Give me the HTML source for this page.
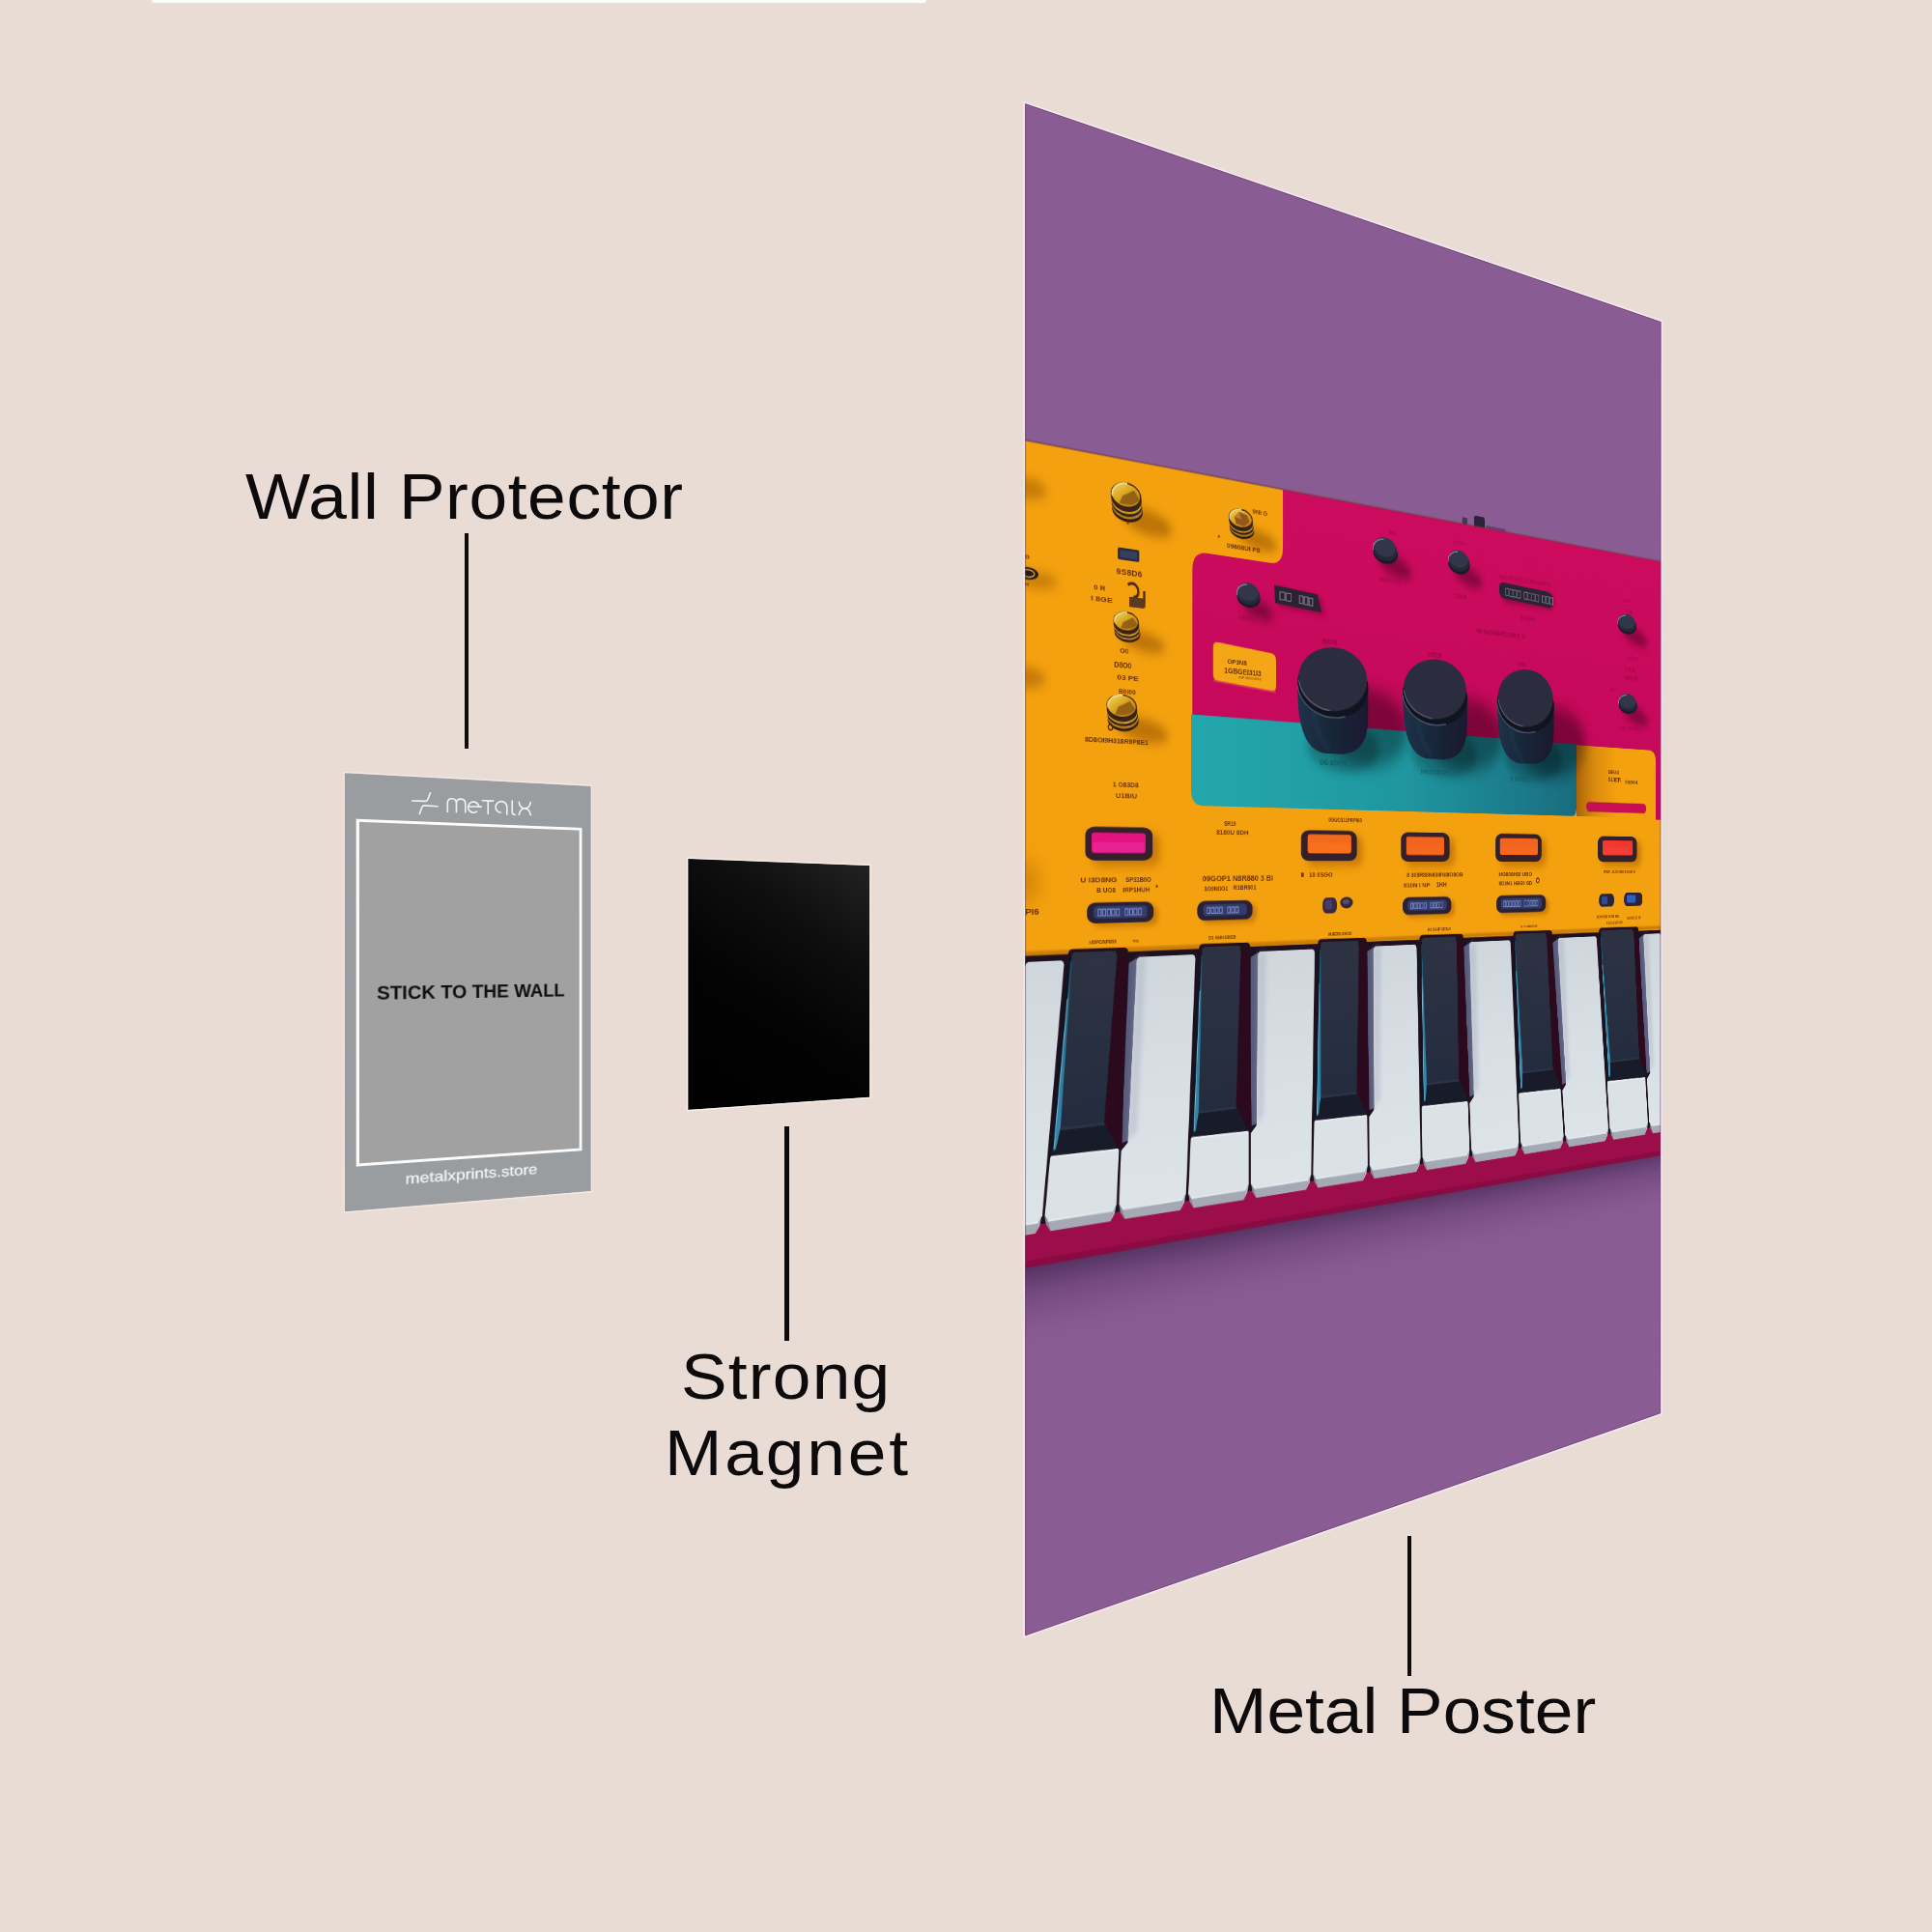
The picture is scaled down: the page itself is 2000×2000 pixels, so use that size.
<!DOCTYPE html><html><head><meta charset="utf-8"><title>Metal Poster</title><style>html,body{margin:0;padding:0}body{width:2000px;height:2000px;background:#e8dcd4;position:relative;overflow:hidden;font-family:"Liberation Sans",sans-serif}.lb{position:absolute;white-space:nowrap;color:#0c0a0a;transform-origin:0 0;font-family:"Liberation Sans",sans-serif}.ln{position:absolute;background:#0c0a0a}.flat{position:absolute;left:0;top:0;transform-origin:0 0}</style></head><body>
<div style="position:absolute;left:157px;top:0;width:802px;height:3px;background:#fdfdfc;border-radius:0 0 3px 3px"></div>
<div style="position:absolute;left:157px;top:3px;width:802px;height:2px;background:#e6dfd9;opacity:.6"></div>
<div class="lb" style="left:253.7px;top:480.5px;font-size:66px;line-height:66px;letter-spacing:0.58px;transform:scaleX(1.08)">Wall Protector</div>
<div class="lb" style="left:705.0px;top:1392.0px;font-size:66px;line-height:66px;letter-spacing:1.15px;transform:scaleX(1.08)">Strong</div>
<div class="lb" style="left:688.0px;top:1471.0px;font-size:66px;line-height:66px;letter-spacing:2.65px;transform:scaleX(1.08)">Magnet</div>
<div class="lb" style="left:1252.0px;top:1738.1px;font-size:66px;line-height:66px;letter-spacing:0.00px;transform:scaleX(1.08)">Metal Poster</div>
<div class="ln" style="left:480.6px;top:552px;width:4px;height:223px"></div>
<div class="ln" style="left:812.3px;top:1165.7px;width:4.4px;height:222px"></div>
<div class="ln" style="left:1456.8px;top:1589.8px;width:3.8px;height:145.5px"></div>
<div class="flat" style="width:255px;height:454px;padding:5px;transform:matrix3d(1.20055953,0.321102603,0,0.00032851347,0.000528789988,1.00152491,0,8.64459713e-07,0,0,1,0,356.8,800.2,0,1) translate(-5px,-5px)"><div style="position:relative;width:255px;height:454px;background:#9a9d9f"><div style="position:absolute;left:10.7px;top:47.2px;width:228.4px;height:354.9px;border:3px solid #fcfcfc;background:#a1a1a1"></div><div style="position:absolute;left:31.3px;top:216px;font:bold 21px/24px 'Liberation Sans',sans-serif;color:#0e0e0e;white-space:nowrap;transform-origin:0 0;transform:scaleX(.925)">STICK TO THE WALL</div><div style="position:absolute;left:58.6px;top:416px;font:15.5px/18px 'Liberation Sans',sans-serif;color:#f6f6f6;-webkit-text-stroke:0.3px #f6f6f6;white-space:nowrap;transform-origin:0 0;transform:scaleX(1.12)">metalxprints.store</div></div></div>
<svg style="position:absolute;left:0;top:0" width="2000" height="2000" viewBox="0 0 2000 2000" fill="none"><g transform="translate(415,810) scale(0.077640)" stroke="#f1f1f1" stroke-width="21" stroke-linecap="round" stroke-linejoin="round"><path d="M150,245 L322,250 Q350,251 360,225 L392,140"/><path d="M490,318 L318,308 Q290,306 280,332 L248,420"/><path d="M622,392 L622,275 Q622,215 681,216 Q740,217 740,277 L740,394 M740,277 Q740,219 800,220 Q860,221 860,281 L860,397"/><path d="M905,319 L1072,324 M1040,323 A72,72 0 1 0 1012,388"/><path d="M1087,242 L1232,246 M1162,244 L1162,418"/><path d="M1414,426 L1414,328 A75,75 0 1 0 1332,402"/><path d="M1484,246 L1484,394 Q1486,426 1521,431"/><path d="M1575,262 Q1590,345 1652,345 Q1714,345 1729,265 M1575,431 Q1590,347 1652,347 Q1714,347 1729,434"/></g></svg>
<div class="flat" style="width:188px;height:260px;padding:5px;transform:matrix3d(1.40515442,0.44160458,0,0.000450662451,-8.34644164e-11,0.999615385,0,-1.46592129e-13,0,0,1,0,712.3,889,0,1) translate(-5px,-5px)"><div style="width:188px;height:260px;background:linear-gradient(215deg,#222 0%,#0e0e0e 30%,#030303 60%,#000 100%)"></div></div>
<div class="flat" style="width:1134px;height:1587.2px;padding:6px;transform:matrix3d(1.1933087,0.31792837,0,0.00035625776,0.00057050397,1.0005325,0,5.3765337e-07,0,0,1,0,1061.1,107,0,1) translate(-6px,-6px)"><svg width="1134" height="1587.2" viewBox="0 0 1134 1587.2" font-family="Liberation Sans, sans-serif"><defs><filter id="b1" x="-50%" y="-50%" width="200%" height="200%"><feGaussianBlur stdDeviation="1"/></filter><filter id="b3" x="-50%" y="-50%" width="200%" height="200%"><feGaussianBlur stdDeviation="3"/></filter><filter id="b6" x="-50%" y="-50%" width="200%" height="200%"><feGaussianBlur stdDeviation="6"/></filter><filter id="b10" x="-50%" y="-50%" width="200%" height="200%"><feGaussianBlur stdDeviation="10"/></filter><linearGradient id="gshadow" x1="0" y1="0" x2="0" y2="1"><stop offset="0" stop-color="#3a1f48" stop-opacity=".7"/><stop offset=".35" stop-color="#5a3368" stop-opacity=".4"/><stop offset="1" stop-color="#8a5c94" stop-opacity="0"/></linearGradient><linearGradient id="gwhite" x1="0" y1="0" x2="0" y2="1"><stop offset="0" stop-color="#cfd7dc"/><stop offset=".5" stop-color="#d8dfe4"/><stop offset="1" stop-color="#dde4e8"/></linearGradient><linearGradient id="gblack" x1="0" y1="0" x2="0" y2="1"><stop offset="0" stop-color="#2e3343"/><stop offset="1" stop-color="#232c3e"/></linearGradient><linearGradient id="gobox" x1="0" y1="0" x2="1" y2="0"><stop offset="0" stop-color="#6a3008" stop-opacity=".55"/><stop offset=".45" stop-color="#8a4a08" stop-opacity=".25"/><stop offset="1" stop-color="#a05a08" stop-opacity="0"/></linearGradient><linearGradient id="ggold" x1="0" y1="0" x2="1" y2="1"><stop offset="0" stop-color="#f4dc62"/><stop offset=".45" stop-color="#d9a520"/><stop offset="1" stop-color="#a8720f"/></linearGradient><linearGradient id="gcyan" gradientUnits="userSpaceOnUse" x1="0" y1="885" x2="0" y2="1090"><stop offset="0" stop-color="#1c4f6a"/><stop offset=".35" stop-color="#27769a"/><stop offset="1" stop-color="#3588ac"/></linearGradient><linearGradient id="gbody" x1="0" y1="0" x2="1" y2="0"><stop offset="0" stop-color="#1e3349"/><stop offset=".45" stop-color="#172739"/><stop offset="1" stop-color="#1b1830"/></linearGradient><linearGradient id="gteal" x1="0" y1="0" x2="1" y2="0"><stop offset="0" stop-color="#23a7ac"/><stop offset=".5" stop-color="#1f96a0"/><stop offset=".85" stop-color="#1b7888"/><stop offset="1" stop-color="#196c7e"/></linearGradient><linearGradient id="gpink" x1="0" y1="0" x2="0" y2="1"><stop offset="0" stop-color="#cc0b5e"/><stop offset="1" stop-color="#c3085a"/></linearGradient><clipPath id="cteal"><path d="M228,620 L933,623 V712 Q933,722 923,722 H246 Q228,722 228,704 Z"/></clipPath></defs><rect x="0" y="0" width="1134" height="1587.2" fill="#8a5c94"/><polygon points="0,1204 1134,1210 1134,1300 0,1294" fill="url(#gshadow)"/><rect x="716" y="335" width="21" height="15" rx="3" fill="#2a2236"/><rect x="692" y="340" width="10" height="9" rx="2" fill="#4a3556"/><rect x="740" y="345" width="40" height="4" fill="#5a2a5a" opacity=".6"/><rect x="0" y="349" width="1134" height="540" fill="#f4a10f"/><path d="M371,349 H1134 V724 H1121 V641 Q1121,624 1104,624 H933 V660 H230 V458 Q230,437 252,437 H350 Q371,437 371,416 Z" fill="url(#gpink)"/><rect x="0" y="347.6" width="1134" height="2" fill="#6e3a35" opacity=".55"/><ellipse cx="0" cy="398" rx="28" ry="11" fill="#9a5206" opacity=".5" filter="url(#b6)"/><ellipse cx="0" cy="594" rx="26" ry="11" fill="#9a5206" opacity=".5" filter="url(#b6)"/><ellipse cx="0" cy="806" rx="20" ry="24" fill="#9a5206" opacity=".3" filter="url(#b10)"/><path d="M228,620 L933,623 V712 Q933,722 923,722 H246 Q228,722 228,704 Z" fill="url(#gteal)"/><ellipse cx="167.2" cy="408.2" rx="36.5" ry="13.5" fill="#7a3e04" opacity=".45" filter="url(#b6)" transform="rotate(9 135.0 392.0)"/><ellipse cx="136.5" cy="403.2" rx="21.5" ry="13.0" fill="#2e1a16"/><ellipse cx="136.2" cy="400.3" rx="21.3" ry="12.6" fill="#b98418"/><ellipse cx="135.8" cy="397.4" rx="21.3" ry="13.0" fill="#33201a"/><ellipse cx="135.4" cy="394.5" rx="21.1" ry="13.0" fill="#d4a024"/><ellipse cx="135.0" cy="391.6" rx="21.3" ry="13.7" fill="#3a221a"/><ellipse cx="134.5" cy="387.3" rx="20.4" ry="13.0" fill="url(#ggold)" stroke="#3a1c10" stroke-width="1.4"/><path d="M129.6,388.4 L145.8,380.8 L153.5,390.2 Q143.6,399.6 125.3,397.0 Z" fill="#8e5c12" opacity=".9"/><path d="M115.7,390.2 A20.4,13.0 0 0 1 136.1,374.5" fill="none" stroke="#fbeaa0" stroke-width="1.8" opacity=".9"/><ellipse cx="332.5" cy="408.1" rx="32.3" ry="10.9" fill="#7a3e04" opacity=".45" filter="url(#b6)" transform="rotate(9 304.0 395.0)"/><ellipse cx="305.5" cy="404.0" rx="19.0" ry="10.4" fill="#2e1a16"/><ellipse cx="305.2" cy="401.7" rx="18.8" ry="10.1" fill="#b98418"/><ellipse cx="304.8" cy="399.4" rx="18.8" ry="10.4" fill="#33201a"/><ellipse cx="304.4" cy="397.0" rx="18.6" ry="10.4" fill="#d4a024"/><ellipse cx="304.0" cy="394.7" rx="18.8" ry="11.0" fill="#3a221a"/><ellipse cx="303.5" cy="391.2" rx="18.1" ry="10.4" fill="url(#ggold)" stroke="#3a1c10" stroke-width="1.4"/><path d="M293.6,390.6 L301.1,384.1 L313.5,386.3 L317.3,393.6 L308.8,399.6 L296.4,397.9 Z" fill="#93561c"/><path d="M293.6,390.6 L301.1,384.1 L304.9,392.1 Z" fill="#c98a2a" opacity=".8"/><path d="M286.9,393.6 A18.1,10.4 0 0 1 304.9,380.9" fill="none" stroke="#fbeaa0" stroke-width="1.8" opacity=".9"/><ellipse cx="162.0" cy="540.6" rx="30.6" ry="10.5" fill="#7a3e04" opacity=".45" filter="url(#b6)" transform="rotate(9 135.0 528.0)"/><ellipse cx="136.5" cy="536.7" rx="18.0" ry="10.1" fill="#2e1a16"/><ellipse cx="136.2" cy="534.4" rx="17.8" ry="9.8" fill="#b98418"/><ellipse cx="135.8" cy="532.2" rx="17.8" ry="10.1" fill="#33201a"/><ellipse cx="135.4" cy="530.0" rx="17.6" ry="10.1" fill="#d4a024"/><ellipse cx="135.0" cy="527.7" rx="17.8" ry="10.6" fill="#3a221a"/><ellipse cx="134.5" cy="524.4" rx="17.1" ry="10.1" fill="url(#ggold)" stroke="#3a1c10" stroke-width="1.4"/><path d="M130.5,525.2 L144.0,519.3 L150.5,526.6 Q142.2,533.9 126.9,531.9 Z" fill="#8e5c12" opacity=".9"/><path d="M118.8,526.6 A17.1,10.1 0 0 1 135.9,514.4" fill="none" stroke="#fbeaa0" stroke-width="1.8" opacity=".9"/><ellipse cx="161.2" cy="636.3" rx="36.5" ry="12.8" fill="#7a3e04" opacity=".45" filter="url(#b6)" transform="rotate(9 129.0 621.0)"/><ellipse cx="130.5" cy="631.5" rx="21.5" ry="12.2" fill="#2e1a16"/><ellipse cx="130.2" cy="628.8" rx="21.3" ry="11.9" fill="#b98418"/><ellipse cx="129.8" cy="626.1" rx="21.3" ry="12.2" fill="#33201a"/><ellipse cx="129.4" cy="623.4" rx="21.1" ry="12.2" fill="#d4a024"/><ellipse cx="129.0" cy="620.7" rx="21.3" ry="12.9" fill="#3a221a"/><ellipse cx="128.5" cy="616.6" rx="20.4" ry="12.2" fill="url(#ggold)" stroke="#3a1c10" stroke-width="1.4"/><path d="M123.6,617.6 L139.8,610.5 L147.5,619.3 Q137.6,628.1 119.3,625.8 Z" fill="#8e5c12" opacity=".9"/><path d="M109.7,619.3 A20.4,12.2 0 0 1 130.1,604.5" fill="none" stroke="#fbeaa0" stroke-width="1.8" opacity=".9"/><rect x="123" y="445" width="30" height="13" rx="2" fill="#2b2a3a"/><rect x="126" y="447.5" width="24" height="8" fill="#34405c"/><text x="121.0" y="474.0" font-size="9.6" textLength="36.0" lengthAdjust="spacingAndGlyphs" fill="#5b2606" opacity="0.95" font-weight="bold">9S8D6</text><path d="M137,484 q9,-5 14,3 q3,8 -5,10 l0,8 l14,0 l0,-16" fill="none" stroke="#4a2a1a" stroke-width="3.2"/><rect x="139" y="497" width="21" height="11" fill="#5b3a22"/><text x="90.0" y="494.0" font-size="7.2" textLength="16.0" lengthAdjust="spacingAndGlyphs" fill="#5b2606" opacity="0.90" font-weight="bold">0 R</text><text x="86.0" y="506.5" font-size="7.8" textLength="30.0" lengthAdjust="spacingAndGlyphs" fill="#5b2606" opacity="0.90" font-weight="bold">I 8GE</text><text x="126.0" y="559.0" font-size="7.2" textLength="12.0" lengthAdjust="spacingAndGlyphs" fill="#5b2606" opacity="0.90" font-weight="bold">O0</text><text x="118.0" y="575.0" font-size="8.4" textLength="24.0" lengthAdjust="spacingAndGlyphs" fill="#5b2606" opacity="0.90" font-weight="bold">D8O0</text><text x="122.0" y="588.5" font-size="7.8" textLength="30.0" lengthAdjust="spacingAndGlyphs" fill="#5b2606" opacity="0.90" font-weight="bold">03 PE</text><text x="124.0" y="603.0" font-size="7.2" textLength="24.0" lengthAdjust="spacingAndGlyphs" fill="#5b2606" opacity="0.90" font-weight="bold">B0I00</text><text x="78.0" y="657.5" font-size="7.8" textLength="88.0" lengthAdjust="spacingAndGlyphs" fill="#5b2606" opacity="0.95" font-weight="bold">8D8OI9H318R9P8E1</text><circle cx="113" cy="640" r="3" fill="none" stroke="#4a2206" stroke-width="1.6"/><circle cx="137" cy="417" r="1.6" fill="#7a3a06"/><circle cx="160" cy="505" r="1.5" fill="#7a3a06"/><text x="322.0" y="383.5" font-size="6.6" textLength="24.0" lengthAdjust="spacingAndGlyphs" fill="#5b2606" opacity="0.80" font-weight="bold">9NI G</text><text x="282.0" y="427.5" font-size="7.8" textLength="52.0" lengthAdjust="spacingAndGlyphs" fill="#5b2606" opacity="0.90" font-weight="bold">09608UI P8</text><circle cx="270" cy="416" r="1.4" fill="#7a3a06"/><ellipse cx="16" cy="492" rx="26" ry="9" fill="#8a4a06" opacity=".4" filter="url(#b6)"/><ellipse cx="4" cy="486" rx="13" ry="6.5" fill="#2a1a12"/><ellipse cx="4" cy="486" rx="8" ry="3.8" fill="none" stroke="#e0b040" stroke-width="1.3"/><text x="0.0" y="471.0" font-size="6.0" textLength="6.0" lengthAdjust="spacingAndGlyphs" fill="#5b2606" opacity="0.90" font-weight="bold">0</text><text x="0.0" y="499.5" font-size="3.0" textLength="5.0" lengthAdjust="spacingAndGlyphs" fill="#5b2606" opacity="0.90" font-weight="bold">IH</text><text x="0.0" y="840.0" font-size="8.4" textLength="18.0" lengthAdjust="spacingAndGlyphs" fill="#5b2606" opacity="0.90" font-weight="bold">PI6</text><ellipse cx="334.8" cy="488.1" rx="25.2" ry="10.8" fill="#000" opacity=".33" filter="url(#b6)" transform="rotate(15 315.0 476.0)"/><ellipse cx="316.0" cy="480.3" rx="18.4" ry="11.9" fill="#1a1a28"/><ellipse cx="315.5" cy="477.4" rx="18.0" ry="11.6" fill="#262838"/><ellipse cx="315.0" cy="474.1" rx="16.2" ry="10.3" fill="#33364a"/><path d="M297.9,479.4 A18.0,11.6 0 0 1 313.2,465.7" fill="none" stroke="#a0a4b8" stroke-width="1.6" opacity=".75"/><polygon points="357,462 430,466 436,487 359,483" fill="#7a0638" opacity=".5" filter="url(#b3)" transform="translate(5 4)"/><polygon points="357,462 428,466 435,487 358,483" fill="#2c2331"/><g fill="none" stroke="#9a98b4" stroke-width="1.2" opacity=".85"><rect x="366" y="469" width="8" height="9"/><rect x="376" y="469.5" width="8" height="9"/><rect x="398" y="470.5" width="6" height="9"/><rect x="406" y="471" width="6" height="9"/><rect x="414" y="471.5" width="6" height="9"/></g><text x="300.0" y="508.0" font-size="8.4" textLength="26.0" lengthAdjust="spacingAndGlyphs" fill="#8a0640" opacity="0.55" font-weight="bold">06DN</text><polygon points="263,538 357,545 359,588 262,581" fill="#ee6a5a" opacity=".5"/><path d="M268,536 L352,542 Q360,543 360,551 L360,579 Q360,586 352,585.5 L268,579.5 Q261,579 261,572 L261,543 Q261,535.500 268,536 Z" fill="#f5a616"/><text x="283.0" y="559.5" font-size="7.8" textLength="30.0" lengthAdjust="spacingAndGlyphs" fill="#5b2606" opacity="0.90" font-weight="bold">OP3N8</text><text x="278.0" y="570.0" font-size="8.4" textLength="58.0" lengthAdjust="spacingAndGlyphs" fill="#5b2606" opacity="0.90" font-weight="bold">1GBGEI31I3</text><text x="300.0" y="575.5" font-size="4.2" textLength="36.0" lengthAdjust="spacingAndGlyphs" fill="#5b2606" opacity="0.60" font-weight="bold">00P 691OOISS</text><ellipse cx="570.2" cy="411.9" rx="30.8" ry="12.4" fill="#000" opacity=".33" filter="url(#b6)" transform="rotate(15 546.0 398.0)"/><ellipse cx="547.0" cy="403.0" rx="22.4" ry="13.6" fill="#1a1a28"/><ellipse cx="546.5" cy="399.6" rx="22.0" ry="13.3" fill="#262838"/><ellipse cx="546.0" cy="395.8" rx="19.8" ry="11.8" fill="#33364a"/><path d="M525.1,401.9 A22.0,13.3 0 0 1 543.8,386.2" fill="none" stroke="#a0a4b8" stroke-width="1.6" opacity=".75"/><ellipse cx="708.1" cy="410.1" rx="29.4" ry="11.6" fill="#000" opacity=".33" filter="url(#b6)" transform="rotate(15 685.0 397.0)"/><ellipse cx="686.0" cy="401.6" rx="21.4" ry="12.8" fill="#1a1a28"/><ellipse cx="685.5" cy="398.4" rx="21.0" ry="12.5" fill="#262838"/><ellipse cx="685.0" cy="395.0" rx="18.9" ry="11.0" fill="#33364a"/><path d="M665.0,400.6 A21.0,12.5 0 0 1 682.9,386.0" fill="none" stroke="#a0a4b8" stroke-width="1.6" opacity=".75"/><ellipse cx="1074.2" cy="457.1" rx="30.8" ry="10.8" fill="#000" opacity=".33" filter="url(#b6)" transform="rotate(15 1050.0 445.0)"/><ellipse cx="1051.0" cy="449.3" rx="22.4" ry="11.9" fill="#1a1a28"/><ellipse cx="1050.5" cy="446.4" rx="22.0" ry="11.6" fill="#262838"/><ellipse cx="1050.0" cy="443.1" rx="19.8" ry="10.3" fill="#33364a"/><path d="M1029.1,448.4 A22.0,11.6 0 0 1 1047.8,434.7" fill="none" stroke="#a0a4b8" stroke-width="1.6" opacity=".75"/><ellipse cx="1076.2" cy="570.1" rx="30.8" ry="10.8" fill="#000" opacity=".33" filter="url(#b6)" transform="rotate(15 1052.0 558.0)"/><ellipse cx="1053.0" cy="562.3" rx="22.4" ry="11.9" fill="#1a1a28"/><ellipse cx="1052.5" cy="559.4" rx="22.0" ry="11.6" fill="#262838"/><ellipse cx="1052.0" cy="556.1" rx="19.8" ry="10.3" fill="#33364a"/><path d="M1031.1,561.4 A22.0,11.6 0 0 1 1049.8,547.7" fill="none" stroke="#a0a4b8" stroke-width="1.6" opacity=".75"/><rect x="772" y="420" width="112" height="23" rx="9" fill="#7a0638" opacity=".5" filter="url(#b3)"/><path d="M775,416 L868,419 Q880,420 881,429 L881,434 Q880,441 870,440.500 L776,437 Q767,436 767,428 L767,423 Q767,416 775,416 Z" fill="#2b2433"/><g fill="none" stroke="#8f8da8" stroke-width="1.1" opacity=".8"><rect x="780.0" y="423.3" width="6.5" height="9"/><rect x="788.2" y="423.6" width="6.5" height="9"/><rect x="796.4" y="423.9" width="6.5" height="9"/><rect x="804.6" y="424.1" width="6.5" height="9"/><rect x="818.8" y="424.4" width="6.5" height="9"/><rect x="827.0" y="424.7" width="6.5" height="9"/><rect x="835.2" y="425.0" width="6.5" height="9"/><rect x="843.4" y="425.3" width="6.5" height="9"/><rect x="857.6" y="425.5" width="6.5" height="9"/><rect x="865.8" y="425.8" width="6.5" height="9"/><rect x="874.0" y="426.1" width="6.5" height="9"/></g><text x="766.0" y="412.0" font-size="8.4" textLength="110.0" lengthAdjust="spacingAndGlyphs" fill="#8a0640" opacity="0.50" font-weight="bold">SNOIDO0DO O86NNHP D</text><text x="553.0" y="379.0" font-size="7.0" textLength="12.0" lengthAdjust="spacingAndGlyphs" fill="#8a0640" opacity="0.50" font-weight="bold">9U</text><text x="560.0" y="424.0" font-size="8.4" textLength="24.0" lengthAdjust="spacingAndGlyphs" fill="#8a0640" opacity="0.50" font-weight="bold">N1IR</text><text x="536.0" y="439.0" font-size="8.4" textLength="38.0" lengthAdjust="spacingAndGlyphs" fill="#8a0640" opacity="0.45" font-weight="bold">6GR81U</text><text x="672.0" y="376.0" font-size="5.6" textLength="26.0" lengthAdjust="spacingAndGlyphs" fill="#8a0640" opacity="0.40" font-weight="bold">R13R3I3</text><text x="676.0" y="446.0" font-size="8.4" textLength="26.0" lengthAdjust="spacingAndGlyphs" fill="#8a0640" opacity="0.50" font-weight="bold">S3N6</text><text x="810.0" y="462.0" font-size="8.4" textLength="32.0" lengthAdjust="spacingAndGlyphs" fill="#8a0640" opacity="0.50" font-weight="bold">0UI6H</text><text x="720.0" y="487.5" font-size="9.1" textLength="100.0" lengthAdjust="spacingAndGlyphs" fill="#8a0640" opacity="0.70" font-weight="bold">66 NION68D1NE9 S</text><text x="626.0" y="525.0" font-size="8.4" textLength="26.0" lengthAdjust="spacingAndGlyphs" fill="#8a0640" opacity="0.70" font-weight="bold">H81B</text><text x="806.0" y="524.0" font-size="8.4" textLength="16.0" lengthAdjust="spacingAndGlyphs" fill="#8a0640" opacity="0.60" font-weight="bold">0H8</text><text x="436.0" y="524.0" font-size="8.4" textLength="26.0" lengthAdjust="spacingAndGlyphs" fill="#8a0640" opacity="0.85" font-weight="bold">BOI6</text><text x="1040.0" y="416.0" font-size="5.6" textLength="20.0" lengthAdjust="spacingAndGlyphs" fill="#8a0640" opacity="0.45" font-weight="bold">BB 8D</text><text x="1048.0" y="432.0" font-size="8.4" textLength="16.0" lengthAdjust="spacingAndGlyphs" fill="#8a0640" opacity="0.50" font-weight="bold">RBE</text><text x="1048.0" y="497.0" font-size="7.0" textLength="30.0" lengthAdjust="spacingAndGlyphs" fill="#8a0640" opacity="0.40" font-weight="bold">II R09</text><text x="1046.0" y="514.0" font-size="8.4" textLength="24.0" lengthAdjust="spacingAndGlyphs" fill="#8a0640" opacity="0.50" font-weight="bold">UB 6</text><text x="1046.0" y="526.0" font-size="8.4" textLength="32.0" lengthAdjust="spacingAndGlyphs" fill="#8a0640" opacity="0.50" font-weight="bold">HRRBR</text><text x="1010.0" y="545.0" font-size="7.0" textLength="14.0" lengthAdjust="spacingAndGlyphs" fill="#8a0640" opacity="0.50" font-weight="bold">R H</text><text x="1034.0" y="597.0" font-size="7.0" textLength="50.0" lengthAdjust="spacingAndGlyphs" fill="#8a0640" opacity="0.45" font-weight="bold">1BND9RDOUO</text><ellipse cx="514.0" cy="621.2" rx="73.8" ry="48.0" fill="#000" opacity=".36" filter="url(#b10)"/><ellipse cx="472.7" cy="646.8" rx="62.0" ry="30.7" fill="#000" opacity=".22" filter="url(#b6)"/><path d="M394.2,567.5 L396.1,602.9 Q402.7,653.5 442.0,655.0 L471.5,655.0 Q514.6,651.5 515.8,610.0 L515.8,567.5 Z" fill="url(#gbody)"/><path d="M422.6,603.9 Q425.5,635.3 449.1,650.5" fill="none" stroke="#2c4a63" stroke-width="5" opacity=".35" filter="url(#b3)"/><ellipse cx="455.5" cy="573.2" rx="60.8" ry="38.4" fill="#10141f"/><path d="M394.8,577.0 A60.8,38.4 0 0 0 475.6,609.3" fill="none" stroke="#56607a" stroke-width="1.8" opacity=".8"/><ellipse cx="455.0" cy="565.5" rx="59.0" ry="38.4" fill="#2b2d3e" transform="rotate(-4 455.0 565.5)"/><path d="M396.9,570.1 A59.0,38.4 0 0 0 449.1,603.5" fill="none" stroke="#7a7f98" stroke-width="1.6" opacity=".6"/><ellipse cx="700.0" cy="620.8" rx="75.0" ry="47.5" fill="#000" opacity=".36" filter="url(#b10)"/><ellipse cx="658.0" cy="646.4" rx="63.0" ry="30.4" fill="#000" opacity=".22" filter="url(#b6)"/><path d="M578.2,567.7 L580.1,602.8 Q586.9,653.0 626.8,654.5 L656.8,654.5 Q700.6,651.0 701.8,609.9 L701.8,567.7 Z" fill="url(#gbody)"/><path d="M607.0,603.7 Q610.0,635.0 634.0,650.0" fill="none" stroke="#2c4a63" stroke-width="5" opacity=".35" filter="url(#b3)"/><ellipse cx="640.5" cy="573.3" rx="61.8" ry="38.0" fill="#10141f"/><path d="M578.8,577.1 A61.8,38.0 0 0 0 661.0,609.0" fill="none" stroke="#56607a" stroke-width="1.8" opacity=".8"/><ellipse cx="640.0" cy="565.7" rx="60.0" ry="38.0" fill="#2b2d3e" transform="rotate(-4 640.0 565.7)"/><path d="M580.9,570.3 A60.0,38.0 0 0 0 634.0,603.3" fill="none" stroke="#7a7f98" stroke-width="1.6" opacity=".6"/><ellipse cx="881.0" cy="621.7" rx="73.1" ry="48.0" fill="#000" opacity=".36" filter="url(#b10)"/><ellipse cx="840.0" cy="645.3" rx="61.4" ry="30.7" fill="#000" opacity=".22" filter="url(#b6)"/><path d="M762.2,568.0 L764.1,602.5 Q770.7,652.0 809.6,653.5 L838.9,653.5 Q881.5,650.0 882.8,609.5 L882.8,568.0 Z" fill="url(#gbody)"/><path d="M790.3,604.4 Q793.2,633.8 816.6,649.0" fill="none" stroke="#2c4a63" stroke-width="5" opacity=".35" filter="url(#b3)"/><ellipse cx="823.0" cy="573.7" rx="60.3" ry="38.4" fill="#10141f"/><path d="M762.8,577.5 A60.3,38.4 0 0 0 843.0,609.8" fill="none" stroke="#56607a" stroke-width="1.8" opacity=".8"/><ellipse cx="822.5" cy="566.0" rx="58.5" ry="38.4" fill="#2b2d3e" transform="rotate(-4 822.5 566.0)"/><path d="M764.9,570.6 A58.5,38.4 0 0 0 816.6,604.0" fill="none" stroke="#7a7f98" stroke-width="1.6" opacity=".6"/><text x="432.0" y="669.0" font-size="9.8" textLength="46.0" lengthAdjust="spacingAndGlyphs" fill="#0f5563" opacity="0.85" font-weight="bold">DG 8OOR</text><text x="612.0" y="674.0" font-size="8.4" textLength="52.0" lengthAdjust="spacingAndGlyphs" fill="#0f5563" opacity="0.60" font-weight="bold">IHN3UIBSH</text><text x="790.0" y="678.0" font-size="8.4" textLength="38.0" lengthAdjust="spacingAndGlyphs" fill="#0f5563" opacity="0.70" font-weight="bold">9 8PB1</text><rect x="933" y="624" width="95" height="98" fill="url(#gobox)"/><rect x="956" y="702" width="141" height="13" rx="6" fill="#c80f55"/><rect x="956" y="702" width="141" height="13" rx="6" fill="none" stroke="#a0123a" stroke-width="1" opacity=".6"/><text x="1006.0" y="661.0" font-size="7.2" textLength="26.0" lengthAdjust="spacingAndGlyphs" fill="#5b2606" opacity="0.90" font-weight="bold">8BB3D</text><text x="1006.0" y="672.0" font-size="8.4" textLength="30.0" lengthAdjust="spacingAndGlyphs" fill="#5b2606" opacity="0.90" font-weight="bold">S13ER</text><text x="1046.0" y="674.0" font-size="7.2" textLength="30.0" lengthAdjust="spacingAndGlyphs" fill="#5b2606" opacity="0.90" font-weight="bold">SI80HH</text><text x="116.0" y="704.5" font-size="7.8" textLength="36.0" lengthAdjust="spacingAndGlyphs" fill="#5b2606" opacity="0.90" font-weight="bold">1 O83D8</text><text x="120.0" y="716.5" font-size="7.8" textLength="30.0" lengthAdjust="spacingAndGlyphs" fill="#5b2606" opacity="0.90" font-weight="bold">U1BIU</text><text x="278.0" y="744.0" font-size="7.2" textLength="18.0" lengthAdjust="spacingAndGlyphs" fill="#5b2606" opacity="0.90" font-weight="bold">SR19</text><text x="266.0" y="754.5" font-size="7.8" textLength="50.0" lengthAdjust="spacingAndGlyphs" fill="#5b2606" opacity="0.90" font-weight="bold">8180U 8DH</text><text x="447.0" y="737.5" font-size="6.6" textLength="58.0" lengthAdjust="spacingAndGlyphs" fill="#5b2606" opacity="0.85" font-weight="bold">0GUO311PRPI60</text><rect x="88.6" y="753.6" width="93.5" height="36.1" rx="12" ry="9" fill="#a85f06" opacity=".6" filter="url(#b6)"/><rect x="78.6" y="747.6" width="93.5" height="36.1" rx="13" ry="9" fill="#33202a"/><rect x="87.0" y="753.8" width="75.0" height="22.0" rx="4" ry="3" fill="#e3127f"/><rect x="89.0" y="763.7" width="71.0" height="11.0" rx="3" ry="2" fill="#ea2a9a" opacity=".7"/><rect x="410.7" y="753.6" width="95.2" height="36.5" rx="12" ry="9" fill="#a85f06" opacity=".6" filter="url(#b6)"/><rect x="400.7" y="747.6" width="95.2" height="36.5" rx="13" ry="9" fill="#33202a"/><rect x="411.6" y="752.3" width="74.4" height="22.8" rx="4" ry="3" fill="#f36a1c"/><rect x="413.6" y="762.6" width="70.4" height="11.4" rx="3" ry="2" fill="#f7741f" opacity=".7"/><rect x="585.4" y="754.0" width="92.1" height="37.0" rx="12" ry="9" fill="#a85f06" opacity=".6" filter="url(#b6)"/><rect x="575.4" y="748.0" width="92.1" height="37.0" rx="13" ry="9" fill="#33202a"/><rect x="585.0" y="753.4" width="72.0" height="23.0" rx="4" ry="3" fill="#f2631d"/><rect x="587.0" y="763.8" width="68.0" height="11.5" rx="3" ry="2" fill="#f66a20" opacity=".7"/><rect x="769.2" y="753.8" width="96.7" height="37.3" rx="12" ry="9" fill="#a85f06" opacity=".6" filter="url(#b6)"/><rect x="759.2" y="747.8" width="96.7" height="37.3" rx="13" ry="9" fill="#33202a"/><rect x="768.3" y="753.7" width="79.8" height="22.4" rx="4" ry="3" fill="#f2631d"/><rect x="770.3" y="763.8" width="75.8" height="11.2" rx="3" ry="2" fill="#f66a20" opacity=".7"/><rect x="992.0" y="755.0" width="92.6" height="36.3" rx="12" ry="9" fill="#a85f06" opacity=".6" filter="url(#b6)"/><rect x="982.0" y="749.0" width="92.6" height="36.3" rx="13" ry="9" fill="#33202a"/><rect x="993.2" y="755.0" width="71.6" height="20.7" rx="4" ry="3" fill="#f0382e"/><rect x="995.2" y="764.3" width="67.6" height="10.4" rx="3" ry="2" fill="#f8423a" opacity=".7"/><text x="72.0" y="807.5" font-size="7.8" textLength="50.0" lengthAdjust="spacingAndGlyphs" fill="#5b2606" opacity="0.90" font-weight="bold">U  I3D8NG</text><text x="134.0" y="807.5" font-size="7.8" textLength="36.0" lengthAdjust="spacingAndGlyphs" fill="#5b2606" opacity="0.90" font-weight="bold">SP31B6O</text><text x="94.0" y="818.5" font-size="7.8" textLength="26.0" lengthAdjust="spacingAndGlyphs" fill="#5b2606" opacity="0.90" font-weight="bold">B UO8</text><text x="130.0" y="818.5" font-size="7.8" textLength="38.0" lengthAdjust="spacingAndGlyphs" fill="#5b2606" opacity="0.90" font-weight="bold">IRP1HUH</text><circle cx="178" cy="812" r="1.5" fill="#5b2606"/><text x="245.0" y="807.0" font-size="8.4" textLength="110.0" lengthAdjust="spacingAndGlyphs" fill="#5b2606" opacity="0.90" font-weight="bold">09GOP1 N8R880  3 BI</text><text x="248.0" y="818.5" font-size="7.8" textLength="36.0" lengthAdjust="spacingAndGlyphs" fill="#5b2606" opacity="0.90" font-weight="bold">1O9NOO1</text><text x="292.0" y="817.5" font-size="7.8" textLength="36.0" lengthAdjust="spacingAndGlyphs" fill="#5b2606" opacity="0.90" font-weight="bold">R1BR001</text><text x="399.0" y="803.5" font-size="7.8" textLength="8.0" lengthAdjust="spacingAndGlyphs" fill="#5b2606" opacity="0.90" font-weight="bold">I</text><text x="414.0" y="803.5" font-size="7.8" textLength="40.0" lengthAdjust="spacingAndGlyphs" fill="#5b2606" opacity="0.90" font-weight="bold">18 6SGO</text><text x="586.0" y="804.5" font-size="7.8" textLength="108.0" lengthAdjust="spacingAndGlyphs" fill="#5b2606" opacity="0.90" font-weight="bold">8 308R88N83I8N8IO8OB</text><text x="580.0" y="817.5" font-size="7.8" textLength="50.0" lengthAdjust="spacingAndGlyphs" fill="#5b2606" opacity="0.90" font-weight="bold">910N I NP</text><text x="642.0" y="817.0" font-size="8.4" textLength="20.0" lengthAdjust="spacingAndGlyphs" fill="#5b2606" opacity="0.90" font-weight="bold">1HH</text><text x="766.0" y="804.5" font-size="7.8" textLength="70.0" lengthAdjust="spacingAndGlyphs" fill="#5b2606" opacity="0.90" font-weight="bold">HG808HSI  UBO</text><text x="766.0" y="816.5" font-size="7.8" textLength="70.0" lengthAdjust="spacingAndGlyphs" fill="#5b2606" opacity="0.90" font-weight="bold">8D3N1 HBS9 SD</text><circle cx="848" cy="810" r="3" fill="none" stroke="#5b2606" stroke-width="1.5"/><text x="995.0" y="801.0" font-size="6.0" textLength="76.0" lengthAdjust="spacingAndGlyphs" fill="#5b2606" opacity="0.80" font-weight="bold">IP80 UUIBU96E8G8 E</text><rect x="88.0" y="832.7" width="92.3" height="22.3" rx="11" ry="9" fill="#a85f06" opacity=".55" filter="url(#b3)"/><rect x="81.0" y="828.7" width="92.3" height="22.3" rx="11" ry="9" fill="#2a2234"/><rect x="90.0" y="832.7" width="74.3" height="13.3" rx="5" ry="4" fill="#333c6a"/><g fill="none" stroke="#8fa6ea" stroke-width="1.2" opacity=".8"><rect x="96.0" y="836.2" width="4.2" height="6.8"/><rect x="102.2" y="836.2" width="4.2" height="6.8"/><rect x="108.4" y="836.2" width="4.2" height="6.8"/><rect x="114.6" y="836.2" width="4.2" height="6.8"/><rect x="120.8" y="836.2" width="4.2" height="6.8"/><rect x="133.2" y="836.2" width="4.2" height="6.8"/><rect x="139.4" y="836.2" width="4.2" height="6.8"/><rect x="145.6" y="836.2" width="4.2" height="6.8"/><rect x="151.8" y="836.2" width="4.2" height="6.8"/></g><rect x="244.3" y="833.3" width="84.8" height="22.0" rx="11" ry="9" fill="#a85f06" opacity=".55" filter="url(#b3)"/><rect x="237.3" y="829.3" width="84.8" height="22.0" rx="11" ry="9" fill="#2a2234"/><rect x="246.3" y="833.3" width="66.8" height="13.0" rx="5" ry="4" fill="#333c6a"/><g fill="none" stroke="#8fa6ea" stroke-width="1.2" opacity=".8"><rect x="252.3" y="836.8" width="4.2" height="6.5"/><rect x="258.5" y="836.8" width="4.2" height="6.5"/><rect x="264.7" y="836.8" width="4.2" height="6.5"/><rect x="270.9" y="836.8" width="4.2" height="6.5"/><rect x="283.3" y="836.8" width="4.2" height="6.5"/><rect x="289.5" y="836.8" width="4.2" height="6.5"/><rect x="295.7" y="836.8" width="4.2" height="6.5"/></g><rect x="585.6" y="833.5" width="92.3" height="22.1" rx="11" ry="9" fill="#a85f06" opacity=".55" filter="url(#b3)"/><rect x="578.6" y="829.5" width="92.3" height="22.1" rx="11" ry="9" fill="#2a2234"/><rect x="587.6" y="833.5" width="74.3" height="13.1" rx="5" ry="4" fill="#333c6a"/><g fill="none" stroke="#8fa6ea" stroke-width="1.2" opacity=".8"><rect x="593.6" y="837.0" width="4.2" height="6.6"/><rect x="599.8" y="837.0" width="4.2" height="6.6"/><rect x="606.0" y="837.0" width="4.2" height="6.6"/><rect x="612.2" y="837.0" width="4.2" height="6.6"/><rect x="618.4" y="837.0" width="4.2" height="6.6"/><rect x="630.8" y="837.0" width="4.2" height="6.6"/><rect x="637.0" y="837.0" width="4.2" height="6.6"/><rect x="643.2" y="837.0" width="4.2" height="6.6"/><rect x="649.4" y="837.0" width="4.2" height="6.6"/></g><rect x="768.0" y="833.6" width="104.5" height="22.8" rx="11" ry="9" fill="#a85f06" opacity=".55" filter="url(#b3)"/><rect x="761.0" y="829.6" width="104.5" height="22.8" rx="11" ry="9" fill="#2a2234"/><rect x="770.0" y="833.6" width="86.5" height="13.8" rx="5" ry="4" fill="#333c6a"/><g fill="none" stroke="#8fa6ea" stroke-width="1.2" opacity=".8"><rect x="776.0" y="837.1" width="4.2" height="7.3"/><rect x="782.2" y="837.1" width="4.2" height="7.3"/><rect x="788.4" y="837.1" width="4.2" height="7.3"/><rect x="794.6" y="837.1" width="4.2" height="7.3"/><rect x="800.8" y="837.1" width="4.2" height="7.3"/><rect x="807.0" y="837.1" width="4.2" height="7.3"/><rect x="819.4" y="837.1" width="4.2" height="7.3"/><rect x="825.6" y="837.1" width="4.2" height="7.3"/><rect x="831.8" y="837.1" width="4.2" height="7.3"/><rect x="838.0" y="837.1" width="4.2" height="7.3"/><rect x="844.2" y="837.1" width="4.2" height="7.3"/></g><rect x="437" y="828" width="24" height="19" rx="7" fill="#3a2a45"/><rect x="441" y="831" width="12" height="11" rx="3" fill="#4a3a66"/><ellipse cx="478" cy="834.5" rx="11" ry="7" fill="#33293a"/><ellipse cx="477" cy="833.5" rx="6" ry="3" fill="#55506a"/><rect x="985" y="830" width="35" height="18" rx="7" fill="#2a2438"/><rect x="991" y="833.5" width="14" height="11" rx="3" fill="#2f4a9a"/><rect x="1044" y="829" width="44" height="19" rx="7" fill="#2a2438"/><rect x="1050" y="832.5" width="22" height="11" rx="3" fill="#2f5fc0"/><text x="84.0" y="873.3" font-size="5.8" textLength="37.0" lengthAdjust="spacingAndGlyphs" fill="#5b2606" opacity="0.90" font-weight="bold">HBPGNP883</text><text x="144.0" y="873.0" font-size="4.2" textLength="8.0" lengthAdjust="spacingAndGlyphs" fill="#5b2606" opacity="0.80" font-weight="bold">PIS</text><text x="254.0" y="873.3" font-size="5.8" textLength="42.0" lengthAdjust="spacingAndGlyphs" fill="#5b2606" opacity="0.90" font-weight="bold">D1 NHHG8G8</text><text x="446.0" y="873.8" font-size="5.8" textLength="41.0" lengthAdjust="spacingAndGlyphs" fill="#5b2606" opacity="0.90" font-weight="bold">9UIERUO0BI</text><text x="625.0" y="873.2" font-size="6.2" textLength="45.0" lengthAdjust="spacingAndGlyphs" fill="#5b2606" opacity="0.85" font-weight="bold">RI SHP0EN0</text><text x="812.0" y="873.1" font-size="4.3" textLength="35.0" lengthAdjust="spacingAndGlyphs" fill="#5b2606" opacity="0.80" font-weight="bold">N RHDBI1H 0B</text><text x="979.0" y="864.3" font-size="5.8" textLength="53.0" lengthAdjust="spacingAndGlyphs" fill="#5b2606" opacity="0.85" font-weight="bold">3OP88D 0UO HU</text><text x="1051.0" y="867.0" font-size="5.4" textLength="33.0" lengthAdjust="spacingAndGlyphs" fill="#5b2606" opacity="0.80" font-weight="bold">93301O I8</text><text x="1002.0" y="873.3" font-size="4.6" textLength="38.0" lengthAdjust="spacingAndGlyphs" fill="#5b2606" opacity="0.75" font-weight="bold">E E31ESPR IP</text><polygon points="0.0,1158.0 1134.0,1164.0 1134.0,1212.0 0.0,1206.0" fill="#9c0e49" /><polygon points="0.0,1199.0 1134.0,1205.0 1134.0,1212.0 0.0,1206.0" fill="#7a0a3a" opacity=".55"/><polygon points="0.0,882.5 1134.0,883.5 1134.0,1169.0 0.0,1163.0" fill="#1d1020" /><rect x="0" y="878" width="1134" height="5" fill="#7a3a06" opacity=".35" filter="url(#b1)"/><polygon points="0.0,894.0 1.0,891.0 4.0,889.0 46.5,889.0 49.5,890.5 50.5,893.5 22.0,1155.1 16.8,1161.1 0.0,1161.0" fill="url(#gwhite)" /><polygon points="0.0,1161.0 16.8,1161.1 13.3,1172.1 0.0,1172.0" fill="#a4a9b4" /><polygon points="21.1,1154.6 16.8,1161.1 13.3,1172.1 19.1,1164.1" fill="#b4b9c3" /><polygon points="0.0,1160.0 16.8,1160.1 16.8,1161.9 0.0,1161.8" fill="#eef1f4" opacity=".75"/><polygon points="32.3,1095.0 34.3,1093.5 122.5,1095.0 124.5,1096.5 121.3,1155.6 116.5,1161.6 29.2,1161.1 25.4,1155.1" fill="#dbe2e6" /><polygon points="33.3,1093.8 123.5,1095.2 123.5,1097.0 33.3,1095.6" fill="#f2f5f7" opacity=".7"/><polygon points="29.2,1161.1 116.5,1161.6 113.0,1172.6 32.7,1172.1" fill="#a4a9b4" /><polygon points="24.9,1154.6 29.2,1161.1 32.7,1172.1 26.9,1164.1" fill="#8b909c" /><polygon points="120.8,1155.1 116.5,1161.6 113.0,1172.6 118.8,1164.6" fill="#b4b9c3" /><polygon points="29.2,1160.1 116.5,1160.6 116.5,1162.4 29.2,1161.9" fill="#eef1f4" opacity=".75"/><polygon points="149.0,894.0 150.0,891.0 153.0,889.0 230.5,889.0 233.5,890.5 234.5,893.5 220.6,1156.2 215.8,1162.2 128.9,1161.6 124.7,1155.6 127.7,1098.0 136.9,1090.0" fill="url(#gwhite)" /><polygon points="138.5,895.0 149.5,890.0 137.0,1088.0 128.0,1090.0" fill="#5a5c7c" /><polygon points="149.0,890.0 163.0,889.0 149.9,1080.0 137.0,1088.0" fill="#9ea4b8" opacity=".35" filter="url(#b3)"/><polygon points="128.9,1161.6 215.8,1162.2 212.3,1173.2 132.4,1172.6" fill="#a4a9b4" /><polygon points="124.6,1155.1 128.9,1161.6 132.4,1172.6 126.6,1164.6" fill="#8b909c" /><polygon points="220.1,1155.7 215.8,1162.2 212.3,1173.2 218.1,1165.2" fill="#b4b9c3" /><polygon points="128.9,1160.6 215.8,1161.2 215.8,1163.0 128.9,1162.4" fill="#eef1f4" opacity=".75"/><polygon points="227.7,1095.0 229.7,1093.5 314.3,1095.0 316.3,1096.5 316.3,1156.7 311.8,1162.7 228.2,1162.2 224.0,1156.2" fill="#dbe2e6" /><polygon points="228.7,1093.8 315.3,1095.2 315.3,1097.0 228.7,1095.6" fill="#f2f5f7" opacity=".7"/><polygon points="228.2,1162.2 311.8,1162.7 308.3,1173.7 231.7,1173.2" fill="#a4a9b4" /><polygon points="223.9,1155.7 228.2,1162.2 231.7,1173.2 225.9,1165.2" fill="#8b909c" /><polygon points="316.1,1156.2 311.8,1162.7 308.3,1173.7 314.1,1165.7" fill="#b4b9c3" /><polygon points="228.2,1161.2 311.8,1161.7 311.8,1163.5 228.2,1163.0" fill="#eef1f4" opacity=".75"/><polygon points="330.0,894.0 331.0,891.0 334.0,889.0 419.5,889.0 422.5,890.5 423.5,893.5 417.5,1157.2 412.8,1163.2 324.2,1162.7 319.7,1156.7 319.7,1098.0 328.5,1090.0" fill="url(#gwhite)" /><polygon points="319.5,895.0 330.5,890.0 328.5,1088.0 319.5,1090.0" fill="#5a5c7c" /><polygon points="330.0,890.0 344.0,889.0 340.0,1080.0 328.5,1088.0" fill="#9ea4b8" opacity=".35" filter="url(#b3)"/><polygon points="324.2,1162.7 412.8,1163.2 409.3,1174.2 327.7,1173.7" fill="#a4a9b4" /><polygon points="319.9,1156.2 324.2,1162.7 327.7,1173.7 321.9,1165.7" fill="#8b909c" /><polygon points="417.1,1156.7 412.8,1163.2 409.3,1174.2 415.1,1166.2" fill="#b4b9c3" /><polygon points="324.2,1161.7 412.8,1162.2 412.8,1164.0 324.2,1163.5" fill="#eef1f4" opacity=".75"/><polygon points="422.7,1095.0 424.7,1093.5 512.3,1095.0 514.3,1096.5 515.2,1157.7 510.8,1163.7 425.2,1163.2 420.9,1157.2" fill="#dbe2e6" /><polygon points="423.7,1093.8 513.3,1095.2 513.3,1097.0 423.7,1095.6" fill="#f2f5f7" opacity=".7"/><polygon points="425.2,1163.2 510.8,1163.7 507.3,1174.7 428.7,1174.2" fill="#a4a9b4" /><polygon points="420.9,1156.7 425.2,1163.2 428.7,1174.2 422.9,1166.2" fill="#8b909c" /><polygon points="515.1,1157.2 510.8,1163.7 507.3,1174.7 513.1,1166.7" fill="#b4b9c3" /><polygon points="425.2,1162.2 510.8,1162.7 510.8,1164.5 425.2,1164.0" fill="#eef1f4" opacity=".75"/><polygon points="525.0,894.0 526.0,891.0 529.0,889.0 600.5,889.0 603.5,890.5 604.5,893.5 612.2,1158.2 607.8,1164.2 523.2,1163.7 518.6,1157.7 517.8,1098.0 526.4,1090.0" fill="url(#gwhite)" /><polygon points="514.5,895.0 525.5,890.0 526.4,1088.0 517.4,1090.0" fill="#5a5c7c" /><polygon points="525.0,890.0 539.0,889.0 537.5,1080.0 526.4,1088.0" fill="#9ea4b8" opacity=".35" filter="url(#b3)"/><polygon points="523.2,1163.7 607.8,1164.2 604.3,1175.2 526.7,1174.7" fill="#a4a9b4" /><polygon points="518.9,1157.2 523.2,1163.7 526.7,1174.7 520.9,1166.7" fill="#8b909c" /><polygon points="612.1,1157.7 607.8,1164.2 604.3,1175.2 610.1,1167.2" fill="#b4b9c3" /><polygon points="523.2,1162.7 607.8,1163.2 607.8,1165.0 523.2,1164.5" fill="#eef1f4" opacity=".75"/><polygon points="614.2,1095.0 616.2,1093.5 701.5,1095.0 703.5,1096.5 707.0,1158.8 702.8,1164.8 620.2,1164.2 615.6,1158.2" fill="#dbe2e6" /><polygon points="615.2,1093.8 702.5,1095.2 702.5,1097.0 615.2,1095.6" fill="#f2f5f7" opacity=".7"/><polygon points="620.2,1164.2 702.8,1164.8 699.3,1175.8 623.7,1175.2" fill="#a4a9b4" /><polygon points="615.9,1157.7 620.2,1164.2 623.7,1175.2 617.9,1167.2" fill="#8b909c" /><polygon points="707.1,1158.3 702.8,1164.8 699.3,1175.8 705.1,1167.8" fill="#b4b9c3" /><polygon points="620.2,1163.2 702.8,1163.8 702.8,1165.6 620.2,1165.0" fill="#eef1f4" opacity=".75"/><polygon points="706.0,894.0 707.0,891.0 710.0,889.0 786.5,889.0 789.5,890.5 790.5,893.5 808.0,1159.3 803.8,1165.3 715.2,1164.8 710.4,1158.8 707.1,1098.0 715.5,1090.0" fill="url(#gwhite)" /><polygon points="695.5,895.0 706.5,890.0 715.4,1088.0 706.4,1090.0" fill="#5a5c7c" /><polygon points="706.0,890.0 720.0,889.0 725.4,1080.0 715.4,1088.0" fill="#9ea4b8" opacity=".35" filter="url(#b3)"/><polygon points="715.2,1164.8 803.8,1165.3 800.3,1176.3 718.7,1175.8" fill="#a4a9b4" /><polygon points="710.9,1158.3 715.2,1164.8 718.7,1175.8 712.9,1167.8" fill="#8b909c" /><polygon points="808.1,1158.8 803.8,1165.3 800.3,1176.3 806.1,1168.3" fill="#b4b9c3" /><polygon points="715.2,1163.8 803.8,1164.3 803.8,1166.1 715.2,1165.6" fill="#eef1f4" opacity=".75"/><polygon points="807.6,1095.0 809.6,1093.5 896.2,1095.0 898.2,1096.5 904.7,1159.8 900.8,1165.8 816.2,1165.3 811.4,1159.3" fill="#dbe2e6" /><polygon points="808.6,1093.8 897.2,1095.2 897.2,1097.0 808.6,1095.6" fill="#f2f5f7" opacity=".7"/><polygon points="816.2,1165.3 900.8,1165.8 897.3,1176.8 819.7,1176.3" fill="#a4a9b4" /><polygon points="811.9,1158.8 816.2,1165.3 819.7,1176.3 813.9,1168.3" fill="#8b909c" /><polygon points="905.1,1159.3 900.8,1165.8 897.3,1176.8 903.1,1168.8" fill="#b4b9c3" /><polygon points="816.2,1164.3 900.8,1164.8 900.8,1166.6 816.2,1166.1" fill="#eef1f4" opacity=".75"/><polygon points="891.0,894.0 892.0,891.0 895.0,889.0 975.5,889.0 978.5,890.5 979.5,893.5 1006.7,1160.3 1002.8,1166.3 913.2,1165.8 908.1,1159.8 902.0,1098.0 910.0,1090.0" fill="url(#gwhite)" /><polygon points="880.5,895.0 891.5,890.0 909.8,1088.0 900.8,1090.0" fill="#5a5c7c" /><polygon points="891.0,890.0 905.0,889.0 918.5,1080.0 909.8,1088.0" fill="#9ea4b8" opacity=".35" filter="url(#b3)"/><polygon points="913.2,1165.8 1002.8,1166.3 999.3,1177.3 916.7,1176.8" fill="#a4a9b4" /><polygon points="908.9,1159.3 913.2,1165.8 916.7,1176.8 910.9,1168.8" fill="#8b909c" /><polygon points="1007.1,1159.8 1002.8,1166.3 999.3,1177.3 1005.1,1169.3" fill="#b4b9c3" /><polygon points="913.2,1164.8 1002.8,1165.3 1002.8,1167.1 913.2,1166.6" fill="#eef1f4" opacity=".75"/><polygon points="1003.9,1095.0 1005.9,1093.5 1093.6,1095.0 1095.6,1096.5 1101.7,1160.8 1097.8,1166.8 1015.2,1166.3 1010.1,1160.3" fill="#dbe2e6" /><polygon points="1004.9,1093.8 1094.6,1095.2 1094.6,1097.0 1004.9,1095.6" fill="#f2f5f7" opacity=".7"/><polygon points="1015.2,1166.3 1097.8,1166.8 1094.3,1177.8 1018.7,1177.3" fill="#a4a9b4" /><polygon points="1010.9,1159.8 1015.2,1166.3 1018.7,1177.3 1012.9,1169.3" fill="#8b909c" /><polygon points="1102.1,1160.3 1097.8,1166.8 1094.3,1177.8 1100.1,1169.8" fill="#b4b9c3" /><polygon points="1015.2,1165.3 1097.8,1165.8 1097.8,1167.6 1015.2,1167.1" fill="#eef1f4" opacity=".75"/><polygon points="1090.0,894.0 1091.0,891.0 1094.0,889.0 1130.0,889.0 1133.0,890.5 1134.0,893.5 1134.0,1167.0 1110.2,1166.8 1105.1,1160.8 1099.4,1098.0 1107.4,1090.0" fill="url(#gwhite)" /><polygon points="1079.5,895.0 1090.5,890.0 1107.3,1088.0 1098.3,1090.0" fill="#5a5c7c" /><polygon points="1090.0,890.0 1104.0,889.0 1116.2,1080.0 1107.3,1088.0" fill="#9ea4b8" opacity=".35" filter="url(#b3)"/><polygon points="1110.2,1166.8 1134.0,1167.0 1134.0,1178.0 1113.7,1177.8" fill="#a4a9b4" /><polygon points="1105.9,1160.3 1110.2,1166.8 1113.7,1177.8 1107.9,1169.8" fill="#8b909c" /><polygon points="1110.2,1165.8 1134.0,1166.0 1134.0,1167.8 1110.2,1167.6" fill="#eef1f4" opacity=".75"/><polygon points="57.0,882.5 136.5,883.5 128.9,1089.5 122.7,1094.5 32.1,1092.5" fill="#141824" /><polygon points="122.0,884.0 136.5,884.0 128.9,1089.5 122.7,1094.5 104.2,1065.0" fill="#2c0a1d" /><polygon points="60.5,885.5 122.0,885.0 104.2,1065.0 45.8,1065.0" fill="url(#gblack)" /><polygon points="45.8,1065.0 104.2,1065.0 122.7,1094.5 32.1,1092.5" fill="#181b29" /><polygon points="45.8,1065.0 104.2,1065.0 105.2,1068.0 45.3,1068.0" fill="#3a4356" opacity=".6"/><polygon points="57.0,883.0 60.5,885.5 45.8,1065.0 32.1,1092.5" fill="#111521" /><polygon points="59.4,890.0 60.8,890.0 45.8,1065.0 39.6,1087.0 36.5,1088.5" fill="url(#gcyan)" /><line x1="55.0" y1="930" x2="37.1" y2="1086" stroke="#a6dcee" stroke-width="1.1" opacity=".7"/><path d="M55.5,887 L56.0,882 Q56.5,877.5 62.0,877.5 L131.5,878 Q137.0,878 137.5,883 L138.0,888 Z" fill="#24101a"/><path d="M60.5,889 L60.5,884 Q61.0,881 65.0,881 L120.0,881.3 L122.0,889 L60.3,889 Z" fill="#2d3242"/><polygon points="241.0,882.5 317.5,883.5 320.5,1089.5 315.4,1094.5 227.5,1092.5" fill="#141824" /><polygon points="303.8,884.0 317.5,884.0 320.5,1089.5 315.4,1094.5 296.3,1065.0" fill="#2c0a1d" /><polygon points="244.5,885.5 303.8,885.0 296.3,1065.0 239.6,1065.0" fill="url(#gblack)" /><polygon points="239.6,1065.0 296.3,1065.0 315.4,1094.5 227.5,1092.5" fill="#181b29" /><polygon points="239.6,1065.0 296.3,1065.0 297.3,1068.0 239.1,1068.0" fill="#3a4356" opacity=".6"/><polygon points="241.0,883.0 244.5,885.5 239.6,1065.0 227.5,1092.5" fill="#111521" /><polygon points="243.4,890.0 244.8,890.0 239.6,1065.0 235.0,1087.0 231.9,1088.5" fill="url(#gcyan)" /><line x1="241.3" y1="930" x2="232.4" y2="1086" stroke="#a6dcee" stroke-width="1.1" opacity=".7"/><path d="M239.5,887 L240.0,882 Q240.5,877.5 246.0,877.5 L312.5,878 Q318.0,878 318.5,883 L319.0,888 Z" fill="#24101a"/><path d="M244.5,889 L244.5,884 Q245.0,881 249.0,881 L301.8,881.3 L303.8,889 L244.3,889 Z" fill="#2d3242"/><polygon points="430.0,882.5 512.5,883.5 518.2,1089.5 514.3,1094.5 422.5,1092.5" fill="#141824" /><polygon points="499.6,884.0 512.5,884.0 518.2,1089.5 514.3,1094.5 495.8,1065.0" fill="#2c0a1d" /><polygon points="433.5,885.5 499.6,885.0 495.8,1065.0 433.8,1065.0" fill="url(#gblack)" /><polygon points="433.8,1065.0 495.8,1065.0 514.3,1094.5 422.5,1092.5" fill="#181b29" /><polygon points="433.8,1065.0 495.8,1065.0 496.8,1068.0 433.3,1068.0" fill="#3a4356" opacity=".6"/><polygon points="430.0,883.0 433.5,885.5 433.8,1065.0 422.5,1092.5" fill="#111521" /><polygon points="432.4,890.0 433.8,890.0 433.8,1065.0 430.0,1087.0 426.9,1088.5" fill="url(#gcyan)" /><line x1="431.5" y1="930" x2="427.4" y2="1086" stroke="#a6dcee" stroke-width="1.1" opacity=".7"/><path d="M428.5,887 L429.0,882 Q429.5,877.5 435.0,877.5 L507.5,878 Q513.0,878 513.5,883 L514.0,888 Z" fill="#24101a"/><path d="M433.5,889 L433.5,884 Q434.0,881 438.0,881 L497.6,881.3 L499.6,889 L433.3,889 Z" fill="#2d3242"/><polygon points="611.0,882.5 693.5,883.5 707.2,1089.5 704.3,1094.5 614.0,1092.5" fill="#141824" /><polygon points="681.3,884.0 693.5,884.0 707.2,1089.5 704.3,1094.5 685.7,1065.0" fill="#2c0a1d" /><polygon points="614.5,885.5 681.3,885.0 685.7,1065.0 623.9,1065.0" fill="url(#gblack)" /><polygon points="623.9,1065.0 685.7,1065.0 704.3,1094.5 614.0,1092.5" fill="#181b29" /><polygon points="623.9,1065.0 685.7,1065.0 686.7,1068.0 623.4,1068.0" fill="#3a4356" opacity=".6"/><polygon points="611.0,883.0 614.5,885.5 623.9,1065.0 614.0,1092.5" fill="#111521" /><polygon points="613.4,890.0 614.8,890.0 623.9,1065.0 621.5,1087.0 618.4,1088.5" fill="url(#gcyan)" /><line x1="614.6" y1="930" x2="618.7" y2="1086" stroke="#a6dcee" stroke-width="1.1" opacity=".7"/><path d="M609.5,887 L610.0,882 Q610.5,877.5 616.0,877.5 L688.5,878 Q694.0,878 694.5,883 L695.0,888 Z" fill="#24101a"/><path d="M614.5,889 L614.5,884 Q615.0,881 619.0,881 L679.3,881.3 L681.3,889 L614.3,889 Z" fill="#2d3242"/><polygon points="797.0,882.5 878.5,883.5 901.5,1089.5 899.8,1094.5 807.4,1092.5" fill="#141824" /><polygon points="867.1,884.0 878.5,884.0 901.5,1089.5 899.8,1094.5 880.9,1065.0" fill="#2c0a1d" /><polygon points="800.5,885.5 867.1,885.0 880.9,1065.0 816.3,1065.0" fill="url(#gblack)" /><polygon points="816.3,1065.0 880.9,1065.0 899.8,1094.5 807.4,1092.5" fill="#181b29" /><polygon points="816.3,1065.0 880.9,1065.0 881.9,1068.0 815.8,1068.0" fill="#3a4356" opacity=".6"/><polygon points="797.0,883.0 800.5,885.5 816.3,1065.0 807.4,1092.5" fill="#111521" /><polygon points="799.4,890.0 800.8,890.0 816.3,1065.0 814.9,1087.0 811.8,1088.5" fill="url(#gcyan)" /><line x1="802.1" y1="930" x2="812.1" y2="1086" stroke="#a6dcee" stroke-width="1.1" opacity=".7"/><path d="M795.5,887 L796.0,882 Q796.5,877.5 802.0,877.5 L873.5,878 Q879.0,878 879.5,883 L880.0,888 Z" fill="#24101a"/><path d="M800.5,889 L800.5,884 Q801.0,881 805.0,881 L865.1,881.3 L867.1,889 L800.3,889 Z" fill="#2d3242"/><polygon points="986.0,882.5 1077.5,883.5 1098.7,1089.5 1098.1,1094.5 1003.7,1092.5" fill="#141824" /><polygon points="1066.9,884.0 1077.5,884.0 1098.7,1089.5 1098.1,1094.5 1080.5,1065.0" fill="#2c0a1d" /><polygon points="989.5,885.5 1066.9,885.0 1080.5,1065.0 1011.7,1065.0" fill="url(#gblack)" /><polygon points="1011.7,1065.0 1080.5,1065.0 1098.1,1094.5 1003.7,1092.5" fill="#181b29" /><polygon points="1011.7,1065.0 1080.5,1065.0 1081.5,1068.0 1011.2,1068.0" fill="#3a4356" opacity=".6"/><polygon points="986.0,883.0 989.5,885.5 1011.7,1065.0 1003.7,1092.5" fill="#111521" /><polygon points="988.4,890.0 989.8,890.0 1011.7,1065.0 1011.2,1087.0 1008.1,1088.5" fill="url(#gcyan)" /><line x1="992.6" y1="930" x2="1008.3" y2="1086" stroke="#a6dcee" stroke-width="1.1" opacity=".7"/><path d="M984.5,887 L985.0,882 Q985.5,877.5 991.0,877.5 L1072.5,878 Q1078.0,878 1078.5,883 L1079.0,888 Z" fill="#24101a"/><path d="M989.5,889 L989.5,884 Q990.0,881 994.0,881 L1064.9,881.3 L1066.9,889 L989.3,889 Z" fill="#2d3242"/></svg></div>
<svg style="position:absolute;left:0;top:0" width="2000" height="2000" viewBox="0 0 2000 2000" fill="none"><polygon points="1060.25,105.81 1720.45,332.39 1720.05,1463.80 1060.25,1694.80" stroke="#f9e6f4" stroke-width="1.7" stroke-linejoin="miter" opacity=".85"/><polygon points="1061.60,107.70 1719.10,333.36 1718.70,1462.85 1061.60,1692.90" stroke="#5d3f66" stroke-width="1" opacity=".55"/></svg>
<svg style="position:absolute;left:0;top:0" width="2000" height="2000" viewBox="0 0 2000 2000" fill="none"><polygon points="711.50,888.17 901.00,895.33 901.00,1136.45 711.50,1149.76" stroke="#f8f1eb" stroke-width="1.3" opacity=".9"/><polygon points="356.05,799.41 612.45,813.19 612.45,1233.69 356.15,1255.22" stroke="#f6eee8" stroke-width="1.2" opacity=".8"/></svg>
</body></html>
